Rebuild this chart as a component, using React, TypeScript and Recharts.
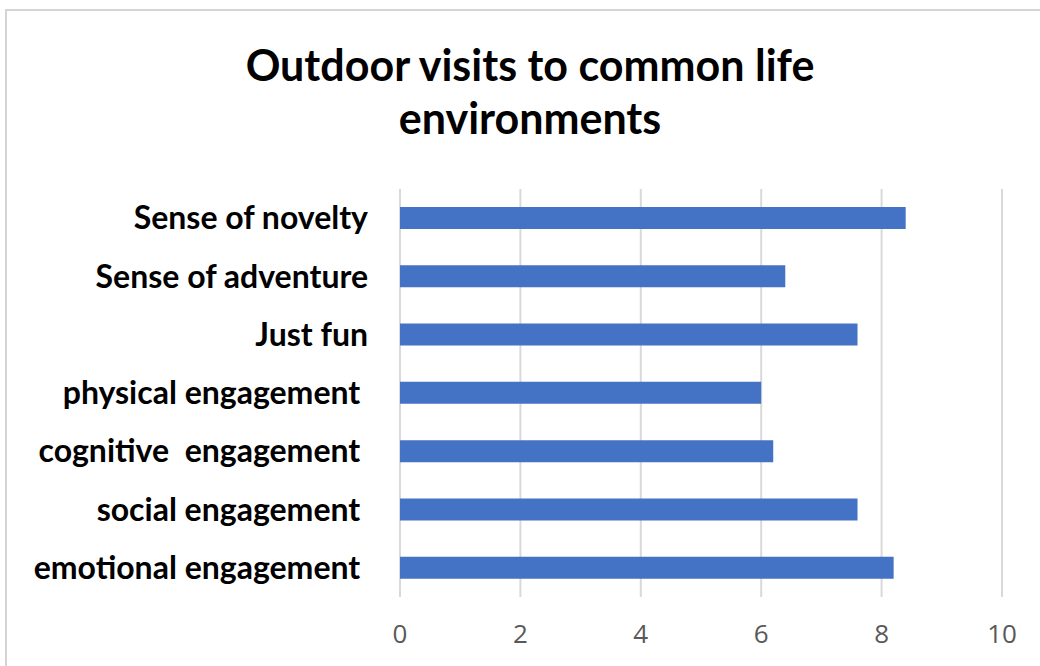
import React from "react";
import { BarChart, Bar, XAxis, YAxis, CartesianGrid } from "recharts";

const categories = [
  "Sense of novelty",
  "Sense of adventure",
  "Just fun",
  "physical engagement ",
  "cognitive  engagement ",
  "social engagement ",
  "emotional engagement ",
];
const values = [8.4, 6.4, 7.6, 6.0, 6.2, 7.6, 8.2];
const xTicks = [0, 2, 4, 6, 8, 10];
const titleLines = ["Outdoor visits to common life", "environments"];

const data = categories.map((c, i) => ({ name: c, value: values[i] }));

const YTick = (props: any) => {
  const { x, y, payload } = props;
  return (
    <text
      x={x}
      y={y}
      dy="0.35em"
      textAnchor="end"
      fill="#000"
      fontFamily="Lato, 'Open Sans', sans-serif"
      fontWeight="bold"
      fontSize={32}
      style={{ whiteSpace: "pre" }}
    >
      {payload.value}
    </text>
  );
};

export default function App() {
  return (
    <div style={{ position: "absolute", left: 0, top: 0, width: 1040, height: 666, background: "#fff", overflow: "hidden" }}>
      <div
        style={{
          position: "absolute",
          left: 5,
          top: 9,
          width: 1060,
          height: 700,
          border: "2px solid #d4d4d4",
          boxSizing: "border-box",
        }}
      />
      <div
        style={{
          position: "absolute",
          left: 0,
          top: 38,
          width: 1060,
          textAlign: "center",
          fontFamily: "Lato, 'Open Sans', sans-serif",
          fontWeight: "bold",
          fontSize: 43,
          lineHeight: "53px",
          color: "#000",
        }}
      >
        {titleLines.map((t) => (
          <div key={t}>{t}</div>
        ))}
      </div>
      <div style={{ position: "absolute", left: 0, top: 0 }}>
        <BarChart
          width={1040}
          height={666}
          data={data}
          layout="vertical"
          margin={{ top: 189, right: 38, bottom: 19, left: 0 }}
          barSize={22}
        >
          <CartesianGrid horizontal={false} vertical={true} stroke="#d9d9d9" strokeWidth={2} />
          <XAxis
            type="number"
            domain={[0, 10]}
            ticks={xTicks}
            axisLine={false}
            tickLine={false}
            tickMargin={22}
            height={50}
            tick={{ fill: "#595959", fontSize: 26, fontFamily: "'Open Sans', sans-serif" }}
          />
          <YAxis
            type="category"
            dataKey="name"
            width={400}
            axisLine={false}
            tickLine={false}
            tickMargin={26}
            tick={<YTick />}
          />
          <Bar dataKey="value" fill="#4472C4" isAnimationActive={false} />
        </BarChart>
      </div>
    </div>
  );
}
